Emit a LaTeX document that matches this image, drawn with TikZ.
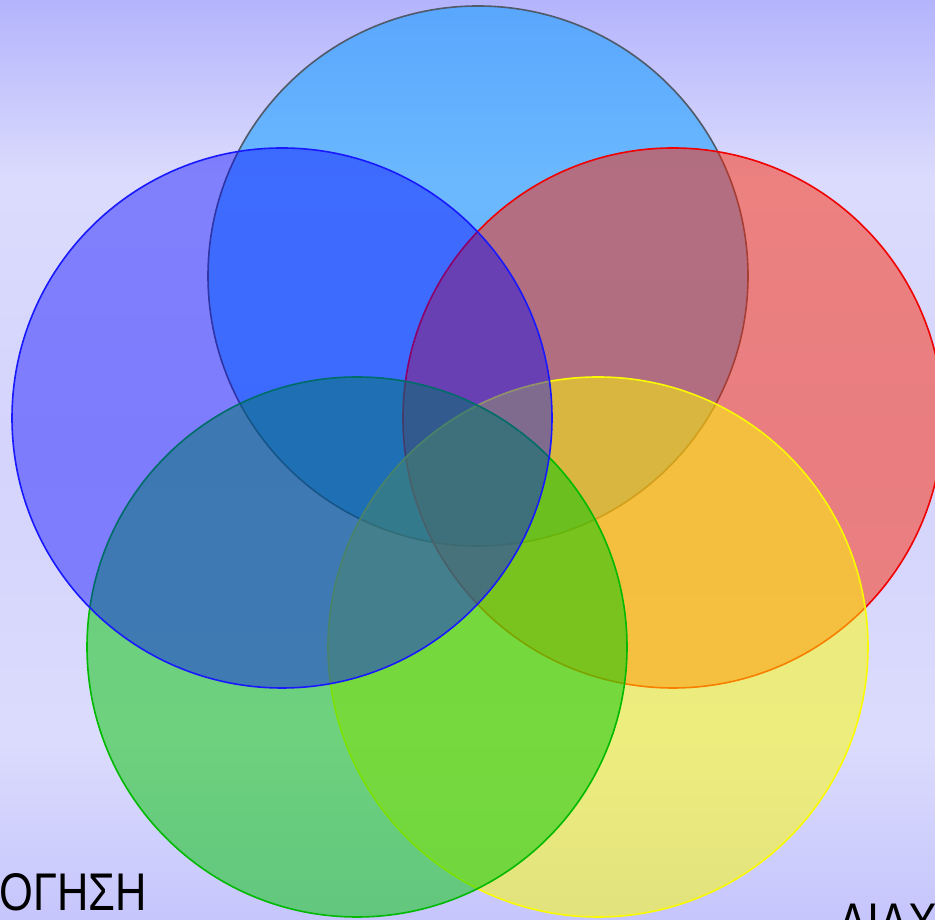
\documentclass[tikz,border=0pt]{standalone}
\usepackage{fontspec}
\setmainfont{Liberation Sans}
\definecolor{ctop}{RGB}{15,156,255}
\definecolor{ctopline}{RGB}{80,90,105}
\definecolor{cred}{RGB}{255,36,0}
\definecolor{credline}{RGB}{240,0,0}
\definecolor{cyel}{RGB}{255,255,0}
\definecolor{cyelline}{RGB}{250,250,0}
\definecolor{cgreen}{RGB}{0,200,0}
\definecolor{cgreenline}{RGB}{0,185,0}
\definecolor{cblue}{RGB}{0,0,255}
\definecolor{cblueline}{RGB}{25,25,255}
\begin{document}
\begin{tikzpicture}[x=1pt,y=1pt,
  venn/.style={line width=1.6pt},
  label/.style={inner sep=0pt, text=black, font=\fontsize{53}{60}\selectfont}]
\useasboundingbox (0,0) rectangle (935,920);
\clip (0,0) rectangle (935,920);
% background: vertical lavender gradient built from thin strips
\foreach \y in {0,4,...,916} {
  \pgfmathsetmacro\dd{920-\y-2}
  \pgfmathtruncatemacro\vv{\dd<180 ? 180+\dd/180*40 : (\dd<450 ? 220-(\dd-180)/270*8 : (\dd<740 ? 212+(\dd-450)/290*8 : 220-(\dd-740)/180*22))}
  \definecolor{stripc}{RGB}{\vv,\vv,253}
  \fill[stripc] (0,\y) rectangle (935,\y+4.6);
}
% circles
\path[venn, fill=ctop, fill opacity=0.55, draw=ctopline] (478,644) circle[radius=270];
\path[venn, fill=cred, fill opacity=0.49, draw=credline] (673,502) circle[radius=270];
\path[venn, fill=cyel, fill opacity=0.5, draw=cyelline] (598,273) circle[radius=270];
\path[venn, fill=cgreen, fill opacity=0.5, draw=cgreenline] (357,273) circle[radius=270];
\path[venn, fill=cblue, fill opacity=0.41, draw=cblueline] (282,502) circle[radius=270];
% labels
\node[label, anchor=base east] (l1) at (147,9) {\scalebox{0.82}[1]{ΟΓΗΣΗ}};
\node[label, anchor=base west] (l2) at (838,-21) {\scalebox{0.82}[1]{ΔΙΑΧ}};
\end{tikzpicture}
\end{document}
